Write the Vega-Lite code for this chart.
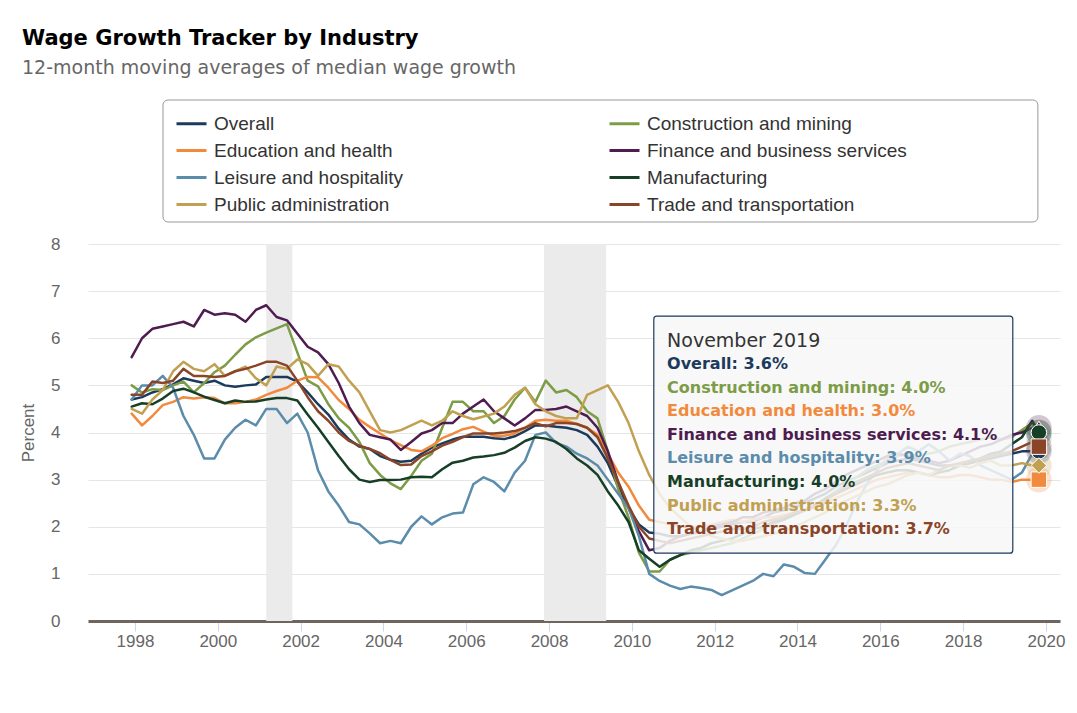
{
  "$schema": "https://vega.github.io/schema/vega-lite/v6.json",
  "width": 972,
  "height": 377,
  "autosize": {"type": "none"},
  "padding": {"left": 88, "top": 244, "right": 17, "bottom": 92},
  "background": "white",
  "title": {
    "text": "Wage Growth Tracker by Industry",
    "subtitle": "12-month moving averages of median wage growth",
    "anchor": "start",
    "frame": "group",
    "dx": -66,
    "offset": 21,
    "font": "DejaVu Sans",
    "fontSize": 21,
    "fontWeight": "bold",
    "color": "#000000",
    "subtitleFont": "DejaVu Sans",
    "subtitleFontSize": 19,
    "subtitleColor": "#666666",
    "subtitlePadding": 10
  },
  "datasets": {
    "names": [
      {"code": "O", "series": "Overall"},
      {"code": "C", "series": "Construction and mining"},
      {"code": "E", "series": "Education and health"},
      {"code": "F", "series": "Finance and business services"},
      {"code": "L", "series": "Leisure and hospitality"},
      {"code": "M", "series": "Manufacturing"},
      {"code": "P", "series": "Public administration"},
      {"code": "T", "series": "Trade and transportation"}
    ],
    "recessions": [
      {"start": 2001.17, "end": 2001.8},
      {"start": 2007.88, "end": 2009.38}
    ],
    "tip": [
      {"code": "O", "series": "Overall", "rank": 1, "full": "Overall: 3.6%"},
      {"code": "C", "series": "Construction and mining", "rank": 2, "full": "Construction and mining: 4.0%"},
      {"code": "E", "series": "Education and health", "rank": 3, "full": "Education and health: 3.0%"},
      {"code": "F", "series": "Finance and business services", "rank": 4, "full": "Finance and business services: 4.1%"},
      {"code": "L", "series": "Leisure and hospitality", "rank": 5, "full": "Leisure and hospitality: 3.9%"},
      {"code": "M", "series": "Manufacturing", "rank": 6, "full": "Manufacturing: 4.0%"},
      {"code": "P", "series": "Public administration", "rank": 7, "full": "Public administration: 3.3%"},
      {"code": "T", "series": "Trade and transportation", "rank": 8, "full": "Trade and transportation: 3.7%"}
    ],
    "wgt": [
      {"t": 1997.92, "O": 4.70, "C": 5.00, "E": 4.40, "F": 5.60, "L": 4.70, "M": 4.55, "P": 4.50, "T": 4.80},
      {"t": 1998.17, "O": 4.75, "C": 4.85, "E": 4.15, "F": 6.00, "L": 5.00, "M": 4.62, "P": 4.40, "T": 4.80},
      {"t": 1998.42, "O": 4.85, "C": 4.92, "E": 4.35, "F": 6.20, "L": 5.00, "M": 4.60, "P": 4.70, "T": 5.08},
      {"t": 1998.67, "O": 4.92, "C": 4.90, "E": 4.58, "F": 6.25, "L": 5.20, "M": 4.72, "P": 4.90, "T": 5.05},
      {"t": 1998.92, "O": 5.02, "C": 5.00, "E": 4.65, "F": 6.30, "L": 4.95, "M": 4.88, "P": 5.30, "T": 5.10},
      {"t": 1999.17, "O": 5.15, "C": 5.08, "E": 4.75, "F": 6.35, "L": 4.35, "M": 4.93, "P": 5.50, "T": 5.35},
      {"t": 1999.42, "O": 5.10, "C": 4.85, "E": 4.72, "F": 6.25, "L": 3.95, "M": 4.85, "P": 5.35, "T": 5.20},
      {"t": 1999.67, "O": 5.05, "C": 5.05, "E": 4.75, "F": 6.60, "L": 3.45, "M": 4.76, "P": 5.30, "T": 5.20},
      {"t": 1999.92, "O": 5.10, "C": 5.28, "E": 4.73, "F": 6.50, "L": 3.45, "M": 4.69, "P": 5.45, "T": 5.18},
      {"t": 2000.17, "O": 5.00, "C": 5.42, "E": 4.62, "F": 6.53, "L": 3.85, "M": 4.62, "P": 5.20, "T": 5.20},
      {"t": 2000.42, "O": 4.97, "C": 5.65, "E": 4.62, "F": 6.50, "L": 4.10, "M": 4.68, "P": 5.30, "T": 5.30},
      {"t": 2000.67, "O": 5.00, "C": 5.87, "E": 4.65, "F": 6.35, "L": 4.27, "M": 4.65, "P": 5.40, "T": 5.35},
      {"t": 2000.92, "O": 5.02, "C": 6.02, "E": 4.70, "F": 6.60, "L": 4.15, "M": 4.66, "P": 5.15, "T": 5.42},
      {"t": 2001.17, "O": 5.18, "C": 6.12, "E": 4.80, "F": 6.70, "L": 4.50, "M": 4.70, "P": 5.00, "T": 5.50},
      {"t": 2001.42, "O": 5.18, "C": 6.21, "E": 4.88, "F": 6.45, "L": 4.50, "M": 4.73, "P": 5.40, "T": 5.50},
      {"t": 2001.67, "O": 5.18, "C": 6.30, "E": 4.95, "F": 6.38, "L": 4.20, "M": 4.73, "P": 5.35, "T": 5.42},
      {"t": 2001.92, "O": 5.08, "C": 5.70, "E": 5.10, "F": 6.10, "L": 4.40, "M": 4.68, "P": 5.55, "T": 5.10},
      {"t": 2002.17, "O": 4.85, "C": 5.10, "E": 5.18, "F": 5.82, "L": 4.00, "M": 4.38, "P": 5.45, "T": 4.75},
      {"t": 2002.42, "O": 4.60, "C": 4.98, "E": 5.17, "F": 5.70, "L": 3.20, "M": 4.10, "P": 5.20, "T": 4.45},
      {"t": 2002.67, "O": 4.38, "C": 4.60, "E": 4.95, "F": 5.45, "L": 2.75, "M": 3.80, "P": 5.45, "T": 4.25},
      {"t": 2002.92, "O": 4.08, "C": 4.30, "E": 4.69, "F": 5.05, "L": 2.45, "M": 3.50, "P": 5.40, "T": 4.00},
      {"t": 2003.17, "O": 3.85, "C": 4.10, "E": 4.50, "F": 4.55, "L": 2.10, "M": 3.22, "P": 5.10, "T": 3.82},
      {"t": 2003.42, "O": 3.70, "C": 3.80, "E": 4.27, "F": 4.20, "L": 2.05, "M": 3.00, "P": 4.85, "T": 3.72},
      {"t": 2003.67, "O": 3.65, "C": 3.35, "E": 4.12, "F": 3.95, "L": 1.86, "M": 2.95, "P": 4.45, "T": 3.65},
      {"t": 2003.92, "O": 3.50, "C": 3.10, "E": 3.98, "F": 3.90, "L": 1.65, "M": 2.99, "P": 4.05, "T": 3.56},
      {"t": 2004.17, "O": 3.42, "C": 2.92, "E": 3.84, "F": 3.85, "L": 1.70, "M": 2.99, "P": 4.00, "T": 3.42},
      {"t": 2004.42, "O": 3.38, "C": 2.80, "E": 3.73, "F": 3.63, "L": 1.65, "M": 3.00, "P": 4.05, "T": 3.31},
      {"t": 2004.67, "O": 3.40, "C": 3.08, "E": 3.63, "F": 3.80, "L": 2.00, "M": 3.05, "P": 4.15, "T": 3.32},
      {"t": 2004.92, "O": 3.55, "C": 3.40, "E": 3.60, "F": 3.98, "L": 2.22, "M": 3.06, "P": 4.25, "T": 3.50},
      {"t": 2005.17, "O": 3.68, "C": 3.55, "E": 3.72, "F": 4.05, "L": 2.05, "M": 3.05, "P": 4.15, "T": 3.60},
      {"t": 2005.42, "O": 3.77, "C": 4.10, "E": 3.88, "F": 4.20, "L": 2.20, "M": 3.22, "P": 4.25, "T": 3.72},
      {"t": 2005.67, "O": 3.85, "C": 4.65, "E": 3.97, "F": 4.20, "L": 2.28, "M": 3.36, "P": 4.45, "T": 3.80},
      {"t": 2005.92, "O": 3.91, "C": 4.65, "E": 4.07, "F": 4.40, "L": 2.30, "M": 3.40, "P": 4.35, "T": 3.90},
      {"t": 2006.17, "O": 3.91, "C": 4.45, "E": 4.12, "F": 4.55, "L": 2.90, "M": 3.47, "P": 4.28, "T": 3.98},
      {"t": 2006.42, "O": 3.91, "C": 4.45, "E": 4.02, "F": 4.70, "L": 3.05, "M": 3.49, "P": 4.34, "T": 3.98},
      {"t": 2006.67, "O": 3.88, "C": 4.20, "E": 3.93, "F": 4.45, "L": 2.95, "M": 3.52, "P": 4.40, "T": 3.98},
      {"t": 2006.92, "O": 3.86, "C": 4.35, "E": 3.93, "F": 4.30, "L": 2.75, "M": 3.57, "P": 4.55, "T": 4.00},
      {"t": 2007.17, "O": 3.92, "C": 4.70, "E": 3.98, "F": 4.15, "L": 3.15, "M": 3.68, "P": 4.80, "T": 4.03},
      {"t": 2007.42, "O": 4.03, "C": 4.95, "E": 4.10, "F": 4.30, "L": 3.40, "M": 3.82, "P": 4.95, "T": 4.10},
      {"t": 2007.67, "O": 4.15, "C": 4.65, "E": 4.25, "F": 4.48, "L": 3.95, "M": 3.90, "P": 4.60, "T": 4.20},
      {"t": 2007.92, "O": 4.15, "C": 5.10, "E": 4.27, "F": 4.48, "L": 4.00, "M": 3.87, "P": 4.45, "T": 4.13},
      {"t": 2008.17, "O": 4.12, "C": 4.85, "E": 4.25, "F": 4.50, "L": 3.78, "M": 3.80, "P": 4.35, "T": 4.20},
      {"t": 2008.42, "O": 4.10, "C": 4.90, "E": 4.25, "F": 4.55, "L": 3.70, "M": 3.65, "P": 4.30, "T": 4.20},
      {"t": 2008.67, "O": 4.05, "C": 4.75, "E": 4.18, "F": 4.45, "L": 3.55, "M": 3.45, "P": 4.30, "T": 4.18},
      {"t": 2008.92, "O": 3.95, "C": 4.45, "E": 4.10, "F": 4.35, "L": 3.45, "M": 3.30, "P": 4.80, "T": 4.10},
      {"t": 2009.17, "O": 3.70, "C": 4.30, "E": 3.95, "F": 4.10, "L": 3.30, "M": 3.10, "P": 4.90, "T": 3.90},
      {"t": 2009.42, "O": 3.35, "C": 3.60, "E": 3.55, "F": 3.60, "L": 3.00, "M": 2.75, "P": 5.00, "T": 3.45},
      {"t": 2009.67, "O": 2.85, "C": 2.80, "E": 3.15, "F": 2.95, "L": 2.70, "M": 2.45, "P": 4.65, "T": 2.95},
      {"t": 2009.92, "O": 2.40, "C": 2.20, "E": 2.85, "F": 2.40, "L": 2.40, "M": 2.10, "P": 4.20, "T": 2.45},
      {"t": 2010.17, "O": 2.05, "C": 1.45, "E": 2.45, "F": 1.90, "L": 1.80, "M": 1.50, "P": 3.60, "T": 2.00},
      {"t": 2010.42, "O": 1.88, "C": 1.05, "E": 2.15, "F": 1.50, "L": 1.00, "M": 1.32, "P": 3.10, "T": 1.75},
      {"t": 2010.67, "O": 1.85, "C": 1.05, "E": 2.10, "F": 1.55, "L": 0.85, "M": 1.15, "P": 2.70, "T": 1.70},
      {"t": 2010.92, "O": 1.80, "C": 1.30, "E": 2.05, "F": 1.70, "L": 0.75, "M": 1.30, "P": 2.40, "T": 1.65},
      {"t": 2011.17, "O": 1.80, "C": 1.40, "E": 2.00, "F": 1.80, "L": 0.68, "M": 1.40, "P": 2.20, "T": 1.70},
      {"t": 2011.42, "O": 1.85, "C": 1.45, "E": 2.00, "F": 1.85, "L": 0.73, "M": 1.50, "P": 2.00, "T": 1.75},
      {"t": 2011.67, "O": 1.90, "C": 1.50, "E": 2.00, "F": 1.90, "L": 0.70, "M": 1.55, "P": 1.90, "T": 1.80},
      {"t": 2011.92, "O": 1.95, "C": 1.55, "E": 2.05, "F": 2.00, "L": 0.66, "M": 1.65, "P": 1.80, "T": 1.85},
      {"t": 2012.17, "O": 2.00, "C": 1.60, "E": 2.10, "F": 2.05, "L": 0.55, "M": 1.70, "P": 1.75, "T": 1.90},
      {"t": 2012.42, "O": 2.05, "C": 1.65, "E": 2.15, "F": 2.10, "L": 0.65, "M": 1.75, "P": 1.70, "T": 1.95},
      {"t": 2012.67, "O": 2.10, "C": 1.75, "E": 2.10, "F": 2.20, "L": 0.75, "M": 1.85, "P": 1.70, "T": 1.95},
      {"t": 2012.92, "O": 2.10, "C": 1.85, "E": 2.15, "F": 2.20, "L": 0.85, "M": 1.95, "P": 1.75, "T": 2.00},
      {"t": 2013.17, "O": 2.20, "C": 1.95, "E": 2.20, "F": 2.30, "L": 1.00, "M": 2.00, "P": 1.80, "T": 2.10},
      {"t": 2013.42, "O": 2.30, "C": 2.05, "E": 2.20, "F": 2.35, "L": 0.95, "M": 2.10, "P": 1.85, "T": 2.15},
      {"t": 2013.67, "O": 2.35, "C": 2.15, "E": 2.25, "F": 2.40, "L": 1.20, "M": 2.15, "P": 1.90, "T": 2.20},
      {"t": 2013.92, "O": 2.40, "C": 2.25, "E": 2.30, "F": 2.50, "L": 1.15, "M": 2.25, "P": 2.00, "T": 2.30},
      {"t": 2014.17, "O": 2.50, "C": 2.35, "E": 2.35, "F": 2.55, "L": 1.02, "M": 2.35, "P": 2.10, "T": 2.35},
      {"t": 2014.42, "O": 2.60, "C": 2.45, "E": 2.40, "F": 2.70, "L": 1.00, "M": 2.45, "P": 2.20, "T": 2.45},
      {"t": 2014.67, "O": 2.70, "C": 2.60, "E": 2.50, "F": 2.80, "L": 1.30, "M": 2.60, "P": 2.30, "T": 2.55},
      {"t": 2014.92, "O": 2.85, "C": 2.75, "E": 2.60, "F": 2.95, "L": 1.60, "M": 2.70, "P": 2.45, "T": 2.70},
      {"t": 2015.17, "O": 2.95, "C": 2.90, "E": 2.70, "F": 3.10, "L": 2.00, "M": 2.80, "P": 2.55, "T": 2.85},
      {"t": 2015.42, "O": 3.05, "C": 3.05, "E": 2.80, "F": 3.20, "L": 2.50, "M": 2.90, "P": 2.65, "T": 2.95},
      {"t": 2015.67, "O": 3.15, "C": 3.20, "E": 2.90, "F": 3.30, "L": 2.90, "M": 3.00, "P": 2.75, "T": 3.05},
      {"t": 2015.92, "O": 3.25, "C": 3.30, "E": 3.00, "F": 3.40, "L": 3.20, "M": 3.10, "P": 2.85, "T": 3.15},
      {"t": 2016.17, "O": 3.35, "C": 3.40, "E": 3.05, "F": 3.50, "L": 3.45, "M": 3.15, "P": 2.90, "T": 3.25},
      {"t": 2016.42, "O": 3.40, "C": 3.50, "E": 3.10, "F": 3.55, "L": 3.55, "M": 3.20, "P": 3.00, "T": 3.30},
      {"t": 2016.67, "O": 3.45, "C": 3.55, "E": 3.15, "F": 3.50, "L": 3.70, "M": 3.20, "P": 3.10, "T": 3.35},
      {"t": 2016.92, "O": 3.40, "C": 3.50, "E": 3.15, "F": 3.45, "L": 3.60, "M": 3.15, "P": 3.15, "T": 3.30},
      {"t": 2017.17, "O": 3.35, "C": 3.55, "E": 3.10, "F": 3.40, "L": 3.75, "M": 3.10, "P": 3.10, "T": 3.25},
      {"t": 2017.42, "O": 3.30, "C": 3.60, "E": 3.05, "F": 3.35, "L": 3.60, "M": 3.15, "P": 3.20, "T": 3.20},
      {"t": 2017.67, "O": 3.30, "C": 3.70, "E": 3.05, "F": 3.40, "L": 3.40, "M": 3.20, "P": 3.30, "T": 3.30},
      {"t": 2017.92, "O": 3.30, "C": 3.75, "E": 3.10, "F": 3.50, "L": 3.55, "M": 3.30, "P": 3.30, "T": 3.35},
      {"t": 2018.17, "O": 3.35, "C": 3.80, "E": 3.10, "F": 3.60, "L": 3.50, "M": 3.35, "P": 3.25, "T": 3.40},
      {"t": 2018.42, "O": 3.40, "C": 3.85, "E": 3.05, "F": 3.70, "L": 3.30, "M": 3.45, "P": 3.35, "T": 3.45},
      {"t": 2018.67, "O": 3.45, "C": 3.90, "E": 3.00, "F": 3.75, "L": 3.20, "M": 3.55, "P": 3.40, "T": 3.50},
      {"t": 2018.92, "O": 3.50, "C": 3.85, "E": 3.00, "F": 3.85, "L": 3.10, "M": 3.60, "P": 3.30, "T": 3.55},
      {"t": 2019.17, "O": 3.55, "C": 3.90, "E": 2.95, "F": 3.95, "L": 3.00, "M": 3.75, "P": 3.30, "T": 3.60},
      {"t": 2019.42, "O": 3.60, "C": 4.05, "E": 3.00, "F": 4.00, "L": 3.15, "M": 3.90, "P": 3.35, "T": 3.70},
      {"t": 2019.67, "O": 3.60, "C": 4.20, "E": 3.00, "F": 4.10, "L": 3.55, "M": 4.25, "P": 3.30, "T": 3.80},
      {"t": 2019.83, "O": 3.60, "C": 4.00, "E": 3.00, "F": 4.10, "L": 3.90, "M": 4.00, "P": 3.30, "T": 3.70}
    ]
  },
  "layer": [
    {
      "layer": [
        {
          "data": {"values": [{}]},
          "mark": {"type": "rect", "fill": "#ffffff", "stroke": "#999999", "strokeWidth": 1, "cornerRadius": 5},
          "encoding": {
            "x": {
              "datum": 1998.676, "type": "quantitative",
              "scale": {"domain": [1996.865, 2020.34], "nice": false, "zero": false},
              "axis": {"title": null, "values": [1998, 2000, 2002, 2004, 2006, 2008, 2010, 2012, 2014, 2016, 2018, 2020], "format": "d", "grid": false}
            },
            "x2": {"datum": 2019.806},
            "y": {
              "datum": 11.056, "type": "quantitative",
              "scale": {"domain": [0, 8], "nice": false, "zero": true},
              "axis": {"title": "Percent", "values": [0, 1, 2, 3, 4, 5, 6, 7, 8], "format": "d"}
            },
            "y2": {"datum": 8.467}
          }
        },
        {
          "data": {"name": "recessions"},
          "mark": {"type": "rect", "color": "#ebebeb"},
          "encoding": {
            "x": {
              "field": "start", "type": "quantitative",
              "scale": {"domain": [1996.865, 2020.34], "nice": false, "zero": false},
              "axis": {"title": null, "values": [1998, 2000, 2002, 2004, 2006, 2008, 2010, 2012, 2014, 2016, 2018, 2020], "format": "d", "grid": false}
            },
            "x2": {"field": "end"}
          }
        },
        {
          "data": {"name": "wgt"},
          "transform": [
            {"fold": ["O", "C", "E", "F", "L", "M", "P", "T"], "as": ["code", "value"]},
            {"lookup": "code", "from": {"data": {"name": "names"}, "key": "code", "fields": ["series"]}}
          ],
          "mark": {"type": "line", "strokeJoin": "round", "strokeCap": "round"},
          "encoding": {
            "x": {
              "field": "t", "type": "quantitative",
              "scale": {"domain": [1996.865, 2020.34], "nice": false, "zero": false},
              "axis": {"title": null, "values": [1998, 2000, 2002, 2004, 2006, 2008, 2010, 2012, 2014, 2016, 2018, 2020], "format": "d", "grid": false}
            },
            "y": {
              "field": "value", "type": "quantitative",
              "scale": {"domain": [0, 8], "nice": false, "zero": true},
              "axis": {"title": "Percent", "values": [0, 1, 2, 3, 4, 5, 6, 7, 8], "format": "d"}
            },
            "color": {
              "field": "series", "type": "nominal",
              "scale": {
                "domain": ["Overall", "Construction and mining", "Education and health", "Finance and business services", "Leisure and hospitality", "Manufacturing", "Public administration", "Trade and transportation"],
                "range": ["#1c3a5c", "#7c9c47", "#f28a3d", "#4e1c50", "#5b8cab", "#173f27", "#c1a052", "#8a4427"]
              },
              "legend": {
                "title": null,
                "orient": "none",
                "legendX": 75,
                "legendY": -144,
                "direction": "horizontal",
                "columns": 2,
                "columnPadding": 199,
                "rowPadding": -3,
                "symbolType": "stroke",
                "symbolSize": 900,
                "symbolStrokeWidth": 3,
                "symbolOffset": 5,
                "labelOffset": 6,
                "labelFont": "Liberation Sans",
                "labelFontSize": 19,
                "labelColor": "#333333",
                "labelLimit": 800,
                "padding": 7,
                "strokeColor": "transparent",
                "fillColor": "transparent"
              }
            },
            "strokeWidth": {
              "field": "code", "type": "nominal",
              "scale": {
                "domain": ["O", "C", "E", "F", "L", "M", "P", "T"],
                "range": [2.5, 2.5, 2.5, 2.5, 5, 2.5, 2.5, 2.5]
              },
              "legend": null
            }
          }
        },
        {
          "data": {"values": [{}]},
          "mark": {"type": "rect", "fill": "#f7f7f7", "fillOpacity": 0.86, "stroke": "#1c3a5c", "strokeWidth": 1.2, "cornerRadius": 3},
          "encoding": {
            "x": {
              "datum": 2010.53, "type": "quantitative",
              "scale": {"domain": [1996.865, 2020.34], "nice": false, "zero": false},
              "axis": {"title": null, "values": [1998, 2000, 2002, 2004, 2006, 2008, 2010, 2012, 2014, 2016, 2018, 2020], "format": "d", "grid": false}
            },
            "x2": {"datum": 2019.2},
            "y": {
              "datum": 6.47, "type": "quantitative",
              "scale": {"domain": [0, 8], "nice": false, "zero": true},
              "axis": {"title": "Percent", "values": [0, 1, 2, 3, 4, 5, 6, 7, 8], "format": "d"}
            },
            "y2": {"datum": 1.44}
          }
        },
        {
          "data": {"name": "wgt"},
          "transform": [
            {"filter": {"field": "t", "equal": 2019.83}},
            {"fold": ["O", "C", "E", "F", "L", "M", "P", "T"], "as": ["code", "value"]}
          ],
          "mark": {"type": "point", "shape": "circle", "filled": true, "size": 650, "opacity": 0.25},
          "encoding": {
            "x": {
              "field": "t", "type": "quantitative",
              "scale": {"domain": [1996.865, 2020.34], "nice": false, "zero": false},
              "axis": {"title": null, "values": [1998, 2000, 2002, 2004, 2006, 2008, 2010, 2012, 2014, 2016, 2018, 2020], "format": "d", "grid": false}
            },
            "y": {
              "field": "value", "type": "quantitative",
              "scale": {"domain": [0, 8], "nice": false, "zero": true},
              "axis": {"title": "Percent", "values": [0, 1, 2, 3, 4, 5, 6, 7, 8], "format": "d"}
            },
            "fill": {
              "field": "code", "type": "nominal",
              "scale": {
                "domain": ["O", "C", "E", "F", "L", "M", "P", "T"],
                "range": ["#1c3a5c", "#7c9c47", "#f28a3d", "#4e1c50", "#5b8cab", "#173f27", "#c1a052", "#8a4427"]
              },
              "legend": null
            }
          }
        },
        {
          "data": {"name": "wgt"},
          "transform": [
            {"filter": {"field": "t", "equal": 2019.83}},
            {"fold": ["O", "C", "E", "F", "L", "M", "P", "T"], "as": ["code", "value"]}
          ],
          "mark": {"type": "point", "filled": true, "size": 240, "opacity": 1, "stroke": "#ffffff", "strokeWidth": 1},
          "encoding": {
            "x": {
              "field": "t", "type": "quantitative",
              "scale": {"domain": [1996.865, 2020.34], "nice": false, "zero": false},
              "axis": {"title": null, "values": [1998, 2000, 2002, 2004, 2006, 2008, 2010, 2012, 2014, 2016, 2018, 2020], "format": "d", "grid": false}
            },
            "y": {
              "field": "value", "type": "quantitative",
              "scale": {"domain": [0, 8], "nice": false, "zero": true},
              "axis": {"title": "Percent", "values": [0, 1, 2, 3, 4, 5, 6, 7, 8], "format": "d"}
            },
            "fill": {
              "field": "code", "type": "nominal",
              "scale": {
                "domain": ["O", "C", "E", "F", "L", "M", "P", "T"],
                "range": ["#1c3a5c", "#7c9c47", "#f28a3d", "#4e1c50", "#5b8cab", "#173f27", "#c1a052", "#8a4427"]
              },
              "legend": null
            },
            "shape": {
              "field": "code", "type": "nominal",
              "scale": {
                "domain": ["O", "C", "E", "F", "L", "M", "P", "T"],
                "range": ["circle", "diamond", "square", "triangle-up", "triangle-down", "circle", "diamond", "square"]
              },
              "legend": null
            }
          }
        }
      ]
    },
    {
      "layer": [
        {
          "data": {"values": [{"label": "November 2019"}]},
          "mark": {"type": "text", "align": "left", "baseline": "middle", "font": "DejaVu Sans", "fontSize": 19, "color": "#333333"},
          "encoding": {
            "x": {
              "datum": 2010.85, "type": "quantitative",
              "scale": {"domain": [1996.865, 2020.34], "nice": false, "zero": false},
              "axis": {"title": null, "values": [1998, 2000, 2002, 2004, 2006, 2008, 2010, 2012, 2014, 2016, 2018, 2020], "format": "d", "grid": false}
            },
            "y": {"datum": 0, "type": "quantitative", "scale": {"domain": [-4.1, 11.9], "reverse": true, "nice": false, "zero": false}, "axis": null},
            "text": {"field": "label"}
          }
        },
        {
          "data": {"name": "tip"},
          "mark": {"type": "text", "align": "left", "baseline": "middle", "font": "DejaVu Sans", "fontSize": 16, "fontWeight": "bold"},
          "encoding": {
            "x": {
              "datum": 2010.85, "type": "quantitative",
              "scale": {"domain": [1996.865, 2020.34], "nice": false, "zero": false},
              "axis": {"title": null, "values": [1998, 2000, 2002, 2004, 2006, 2008, 2010, 2012, 2014, 2016, 2018, 2020], "format": "d", "grid": false}
            },
            "y": {"field": "rank", "type": "quantitative", "scale": {"domain": [-4.1, 11.9], "reverse": true, "nice": false, "zero": false}, "axis": null},
            "text": {"field": "full"},
            "fill": {
              "field": "code", "type": "nominal",
              "scale": {
                "domain": ["O", "C", "E", "F", "L", "M", "P", "T"],
                "range": ["#1c3a5c", "#7c9c47", "#f28a3d", "#4e1c50", "#5b8cab", "#173f27", "#c1a052", "#8a4427"]
              },
              "legend": null
            }
          }
        }
      ]
    }
  ],
  "resolve": {"scale": {"y": "independent"}},
  "config": {
    "view": {"stroke": null},
    "axis": {
      "labelFont": "Liberation Sans",
      "labelFontSize": 17,
      "labelColor": "#666666",
      "titleFont": "Liberation Sans",
      "titleFontSize": 17,
      "titleColor": "#666666",
      "titleFontWeight": "normal"
    },
    "axisX": {
      "domainColor": "#6e655e",
      "domainWidth": 3,
      "tickColor": "#ccd6eb",
      "tickSize": 10,
      "tickWidth": 1,
      "labelPadding": 2,
      "labelFlush": false,
      "labelOverlap": false
    },
    "axisY": {
      "domain": false,
      "ticks": false,
      "grid": true,
      "gridColor": "#e6e6e6",
      "gridWidth": 1,
      "labelPadding": 28,
      "titlePadding": 13
    }
  }
}
